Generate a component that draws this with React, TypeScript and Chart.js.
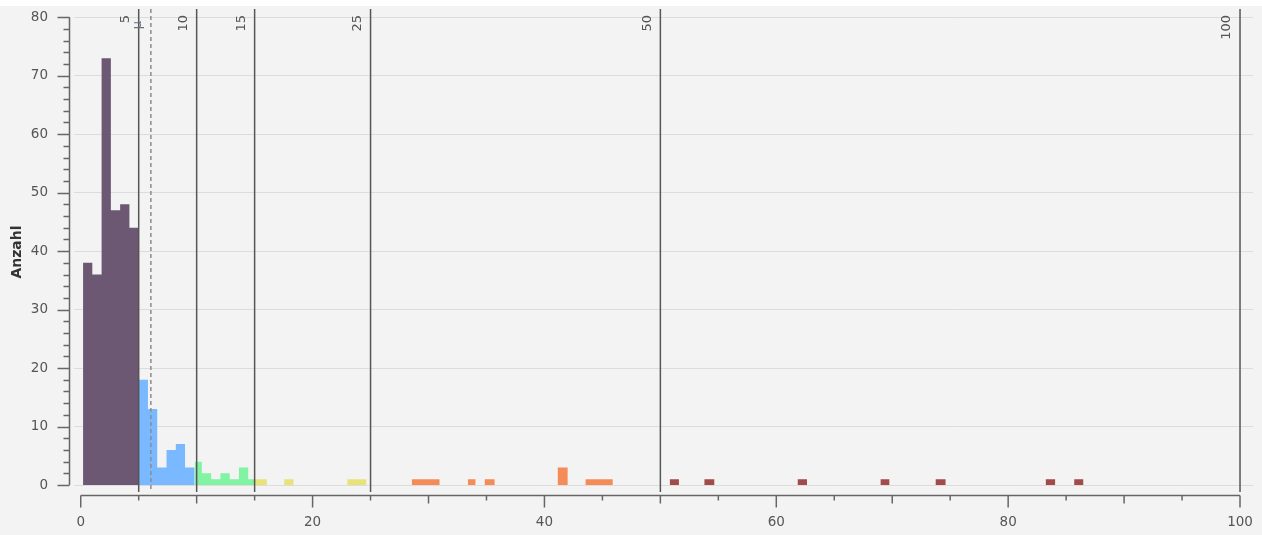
import React, { useEffect, useRef } from 'react';
import { Chart, registerables } from 'chart.js';

Chart.register(...registerables);

const FONT = 'DejaVu Sans';

// Histogram bins (edges) and counts per colour class
const purpleEdges = [0.2, 1.0, 1.8, 2.6, 3.4, 4.2, 5.0];
const purpleCounts = [38, 36, 73, 47, 48, 44];
const blueEdges = [5.0, 5.8, 6.6, 7.4, 8.2, 9.0, 9.83];
const blueCounts = [18, 13, 3, 6, 7, 3];
const greenEdges = [9.83, 10.45, 11.25, 12.05, 12.85, 13.65, 14.45, 14.95];
const greenCounts = [4, 2, 1, 2, 1, 3, 1];
const yellowEdges = [14.95, 16.05, 17.55, 18.35, 23.0, 24.65];
const yellowCounts = [1, 0, 1, 0, 1];
const orangeEdges = [28.55, 30.95, 33.4, 34.05, 34.85, 35.7, 41.15, 42.0, 43.55, 45.9];
const orangeCounts = [1, 0, 1, 0, 1, 0, 3, 0, 1];
const redEdges = [50.8, 51.6, 53.8, 54.65, 61.85, 62.65, 69.0, 69.75, 73.75, 74.6, 83.25, 84.05, 85.7, 86.5];
const redCounts = [1, 0, 1, 0, 1, 0, 1, 0, 1, 0, 1, 0, 1];

const thresholdValues = [5, 10, 15, 25, 50, 100];
const thresholdLabels = ['5', '10', '15', '25', '50', '100'];
const meanValue = 6.05;
const meanLabel = 'μ';

const xTickValues = [0, 20, 40, 60, 80, 100];
const yTickValues = [0, 10, 20, 30, 40, 50, 60, 70, 80];
const yAxisTitle = 'Anzahl';

function steps(edges: number[], counts: number[]) {
  const pts: { x: number; y: number }[] = [{ x: edges[0], y: 0 }];
  counts.forEach((c, i) => pts.push({ x: edges[i], y: c }));
  pts.push({ x: edges[edges.length - 1], y: 0 });
  return pts;
}

function mk(label: string, edges: number[], counts: number[], color: string) {
  return {
    type: 'line' as const,
    label,
    data: steps(edges, counts),
    stepped: true,
    fill: 'origin',
    backgroundColor: color,
    borderColor: 'rgba(0,0,0,0)',
    borderWidth: 0,
    pointRadius: 0,
    pointHoverRadius: 0,
    tension: 0,
  };
}

const overlayPlugin = {
  id: 'overlay',
  afterDatasetsDraw(chart: any) {
    const { ctx, chartArea, scales } = chart;
    const x = scales.x;
    const y = scales.y;
    ctx.save();
    const yBottom = y.getPixelForValue(-1.2);
    // threshold lines
    ctx.strokeStyle = '#565656';
    ctx.lineWidth = 1.5;
    thresholdValues.forEach((v) => {
      const px = x.getPixelForValue(v);
      ctx.beginPath();
      ctx.moveTo(px, chartArea.top);
      ctx.lineTo(px, yBottom);
      ctx.stroke();
    });
    // mean dashed line
    ctx.strokeStyle = '#8c8c8c';
    ctx.setLineDash([4, 3]);
    const mx = x.getPixelForValue(meanValue);
    ctx.beginPath();
    ctx.moveTo(mx, chartArea.top);
    ctx.lineTo(mx, yBottom);
    ctx.stroke();
    ctx.setLineDash([]);
    // labels
    ctx.fillStyle = '#555';
    ctx.font = `13px "${FONT}"`;
    ctx.textAlign = 'right';
    ctx.textBaseline = 'middle';
    thresholdValues.forEach((v, i) => {
      const px = x.getPixelForValue(v);
      ctx.save();
      ctx.translate(px - 13, chartArea.top + 6);
      ctx.rotate(-Math.PI / 2);
      ctx.fillText(thresholdLabels[i], 0, 0);
      ctx.restore();
    });
    ctx.save();
    ctx.fillStyle = '#6a7280';
    ctx.translate(mx - 13, chartArea.top + 12);
    ctx.rotate(-Math.PI / 2);
    ctx.fillText(meanLabel, 0, 0);
    ctx.restore();
    ctx.restore();
  },
  afterDraw(chart: any) {
    const { ctx, chartArea, scales } = chart;
    const x = scales.x;
    const y = scales.y;
    ctx.save();
    ctx.strokeStyle = '#666';
    ctx.lineWidth = 1.5;
    // y axis
    const ax = chartArea.left - 4.5;
    ctx.beginPath();
    ctx.moveTo(ax, y.getPixelForValue(0));
    ctx.lineTo(ax, y.getPixelForValue(80));
    ctx.stroke();
    for (let v = 0; v <= 80; v += 2) {
      const py = Math.round(y.getPixelForValue(v)) + 0.5;
      const len = v % 10 === 0 ? 12 : 6;
      ctx.beginPath();
      ctx.moveTo(ax, py);
      ctx.lineTo(ax - len, py);
      ctx.stroke();
    }
    // x axis
    const ay = chartArea.bottom + 0.5;
    ctx.beginPath();
    ctx.moveTo(x.getPixelForValue(0), ay);
    ctx.lineTo(x.getPixelForValue(100), ay);
    ctx.stroke();
    for (let v = 0; v <= 100; v += 5) {
      const px = x.getPixelForValue(v);
      const len = v % 20 === 0 ? 12 : v % 10 === 0 ? 8 : 5;
      ctx.beginPath();
      ctx.moveTo(px, ay);
      ctx.lineTo(px, ay + len);
      ctx.stroke();
    }
    ctx.restore();
  },
};

export default function App() {
  const ref = useRef<HTMLCanvasElement | null>(null);

  useEffect(() => {
    document.body.style.margin = '0';
    const canvas = ref.current;
    if (!canvas) return;
    const chart = new Chart(canvas, {
      type: 'line',
      data: {
        datasets: [
          mk('≤5', purpleEdges, purpleCounts, '#6c5872'),
          mk('5-10', blueEdges, blueCounts, '#7ab9ff'),
          mk('10-15', greenEdges, greenCounts, '#80f4a2'),
          mk('15-25', yellowEdges, yellowCounts, '#e7e377'),
          mk('25-50', orangeEdges, orangeCounts, '#f58c57'),
          mk('>50', redEdges, redCounts, '#a34a4b'),
        ] as any,
      },
      options: {
        responsive: false,
        animation: false,
        events: [],
        layout: { padding: { top: 3, right: 9, left: 0, bottom: 0 } },
        plugins: { legend: { display: false }, tooltip: { enabled: false } },
        scales: {
          x: {
            type: 'linear',
            min: -0.58,
            max: 101.12,
            grid: { display: false, drawTicks: false },
            border: { display: false },
            ticks: {
              padding: 19,
              autoSkip: false,
              maxRotation: 0,
              color: '#555',
              font: { family: FONT, size: 13.5 },
            },
            afterBuildTicks: (s: any) => {
              s.ticks = xTickValues.map((v) => ({ value: v }));
            },
            afterFit: (s: any) => {
              s.height = 40;
              s.paddingLeft = 0;
              s.paddingRight = 0;
            },
          },
          y: {
            min: -1.7,
            max: 81.4,
            grid: { color: '#dcdcdc', lineWidth: 1, drawTicks: false },
            border: { display: false },
            ticks: {
              padding: 26,
              color: '#555',
              font: { family: FONT, size: 13.5 },
            },
            title: {
              display: true,
              text: yAxisTitle,
              color: '#333',
              font: { family: FONT, size: 14, weight: 'bold' },
              padding: { top: 9, bottom: 0 },
            },
            afterBuildTicks: (s: any) => {
              s.ticks = yTickValues.map((v) => ({ value: v }));
            },
            afterFit: (s: any) => {
              s.width = 74;
              s.paddingTop = 0;
              s.paddingBottom = 0;
            },
          },
        },
      } as any,
      plugins: [overlayPlugin],
    });
    return () => chart.destroy();
  }, []);

  return (
    <div style={{ width: 1262, height: 535, background: '#ffffff', paddingTop: 6, boxSizing: 'border-box' }}>
      <canvas
        ref={ref}
        width={1262}
        height={529}
        style={{ display: 'block', background: '#f3f3f3', width: 1262, height: 529 }}
      />
    </div>
  );
}
